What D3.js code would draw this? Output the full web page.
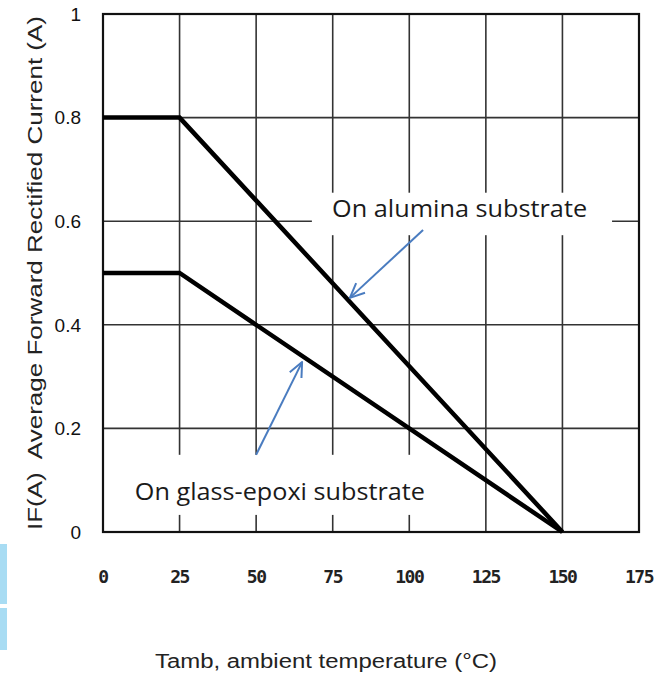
<!DOCTYPE html>
<html>
<head>
<meta charset="utf-8">
<script src="https://cdn.jsdelivr.net/npm/d3@7"></script>
<style>
  body { margin: 0; background: #fff; }
  svg { display: block; }
</style>
</head>
<body>
<div id="vis"></div>
<script>
// derating curves, temperature (°C) vs current (A)
const TEMPS = [0, 25, 150];
const ALUMINA = [0.8, 0.8, 0];
const GLASS_EPOXI = [0.5, 0.5, 0];

const X_TICKS = [0, 25, 50, 75, 100, 125, 150, 175];
const Y_TICKS = [0, 0.2, 0.4, 0.6, 0.8, 1];
const Y_TICK_LABELS = ["0", "0.2", "0.4", "0.6", "0.8", "1"];

const LABEL_ALUMINA = "On alumina substrate";
const LABEL_GLASS = "On glass-epoxi substrate";
const X_TITLE = "Tamb, ambient temperature (°C)";
const Y_TITLE = "IF(A)\u00a0 Average Forward Rectified Current (A)";

// frame
const FRAME_HEIGHT = 679;
const FRAME_WIDTH = 672;
const MARGINS = {left: 103, right: 33, top: 14, bottom: 147};

const VIS_HEIGHT = FRAME_HEIGHT - MARGINS.top - MARGINS.bottom;
const VIS_WIDTH = FRAME_WIDTH - MARGINS.left - MARGINS.right;

const FRAME = d3.select("#vis")
                  .append("svg")
                    .attr("height", FRAME_HEIGHT)
                    .attr("width", FRAME_WIDTH);

const X_SCALE = d3.scaleLinear()
                    .domain([0, 175])
                    .range([MARGINS.left, MARGINS.left + VIS_WIDTH]);

const Y_SCALE = d3.scaleLinear()
                    .domain([0, 1])
                    .range([MARGINS.top + VIS_HEIGHT, MARGINS.top]);

// little blue scan artifact at left edge
FRAME.append("rect").attr("x", 0).attr("y", 544).attr("width", 7).attr("height", 60)
     .attr("fill", "#a8dcf3");
FRAME.append("rect").attr("x", 0).attr("y", 608).attr("width", 7).attr("height", 42)
     .attr("fill", "#a8dcf3");

// grid
FRAME.append("g")
     .selectAll("line")
     .data(X_TICKS.slice(1, -1))
     .enter()
     .append("line")
       .attr("x1", (d) => X_SCALE(d))
       .attr("x2", (d) => X_SCALE(d))
       .attr("y1", Y_SCALE(0))
       .attr("y2", Y_SCALE(1))
       .attr("stroke", "#333")
       .attr("stroke-width", 1.6);

FRAME.append("g")
     .selectAll("line")
     .data(Y_TICKS.slice(1, -1))
     .enter()
     .append("line")
       .attr("x1", X_SCALE(0))
       .attr("x2", X_SCALE(175))
       .attr("y1", (d) => Y_SCALE(d))
       .attr("y2", (d) => Y_SCALE(d))
       .attr("stroke", "#333")
       .attr("stroke-width", 1.6);

// white boxes behind labels (they hide the grid)
FRAME.append("rect")
     .attr("x", X_SCALE(68.2))
     .attr("y", Y_SCALE(0.655))
     .attr("width", X_SCALE(166.2) - X_SCALE(68.2))
     .attr("height", Y_SCALE(0.573) - Y_SCALE(0.655))
     .attr("fill", "#fff");

FRAME.append("rect")
     .attr("x", X_SCALE(2.5))
     .attr("y", Y_SCALE(0.149))
     .attr("width", X_SCALE(113) - X_SCALE(2.5))
     .attr("height", Y_SCALE(0.033) - Y_SCALE(0.149))
     .attr("fill", "#fff");

// frame border
FRAME.append("rect")
     .attr("x", X_SCALE(0))
     .attr("y", Y_SCALE(1))
     .attr("width", VIS_WIDTH)
     .attr("height", VIS_HEIGHT)
     .attr("fill", "none")
     .attr("stroke", "#111")
     .attr("stroke-width", 2.2);

// curves
const line = d3.line()
               .x((d) => X_SCALE(d[0]))
               .y((d) => Y_SCALE(d[1]));

[ALUMINA, GLASS_EPOXI].forEach((series) => {
    FRAME.append("path")
         .datum(TEMPS.map((t, i) => [t, series[i]]))
         .attr("d", line)
         .attr("fill", "none")
         .attr("stroke", "#000")
         .attr("stroke-width", 4.5)
         .attr("stroke-linejoin", "miter");
});

// tick labels
FRAME.append("g")
     .selectAll("text")
     .data(Y_TICKS)
     .enter()
     .append("text")
       .attr("x", 81)
       .attr("y", (d) => Y_SCALE(d))
       .attr("dy", "0.36em")
       .attr("text-anchor", "end")
       .attr("font-family", "Liberation Sans, Arial, sans-serif")
       .attr("font-size", "19px")
       .attr("fill", "#111")
       .text((d, i) => Y_TICK_LABELS[i]);

FRAME.append("g")
     .selectAll("text")
     .data(X_TICKS)
     .enter()
     .append("text")
       .attr("x", (d) => X_SCALE(d))
       .attr("y", 583)
       .attr("text-anchor", "middle")
       .attr("font-family", "DejaVu Sans Mono, monospace")
       .attr("font-weight", "bold")
       .attr("font-size", "18px")
       .attr("letter-spacing", "-1.5px")
       .attr("fill", "#222")
       .text((d) => d);

// axis titles
FRAME.append("text")
     .attr("x", 326)
     .attr("y", 668)
     .attr("text-anchor", "middle")
     .attr("font-family", "Liberation Sans, Arial, sans-serif")
     .attr("font-size", "20px")
     .attr("textLength", 342)
     .attr("lengthAdjust", "spacingAndGlyphs")
     .attr("fill", "#222")
     .text(X_TITLE);

FRAME.append("text")
     .attr("transform", "translate(42," + 273 + ") rotate(-90)")
     .attr("text-anchor", "middle")
     .attr("font-family", "Liberation Sans, Arial, sans-serif")
     .attr("font-size", "21px")
     .attr("textLength", 514)
     .attr("lengthAdjust", "spacingAndGlyphs")
     .attr("fill", "#222")
     .text(Y_TITLE);

// annotations
FRAME.append("text")
     .attr("x", X_SCALE(74.8))
     .attr("y", Y_SCALE(0.608))
     .attr("font-family", "Open Sans, Noto Sans, sans-serif")
     .attr("font-size", "23px")
     .attr("textLength", 255)
     .attr("lengthAdjust", "spacingAndGlyphs")
     .attr("fill", "#1a1a1a")
     .text(LABEL_ALUMINA);

FRAME.append("text")
     .attr("x", X_SCALE(10.4))
     .attr("y", Y_SCALE(0.062))
     .attr("font-family", "Open Sans, Noto Sans, sans-serif")
     .attr("font-size", "23px")
     .attr("textLength", 290)
     .attr("lengthAdjust", "spacingAndGlyphs")
     .attr("fill", "#1a1a1a")
     .text(LABEL_GLASS);

// blue arrows: [from, to] in data units
const ARROWS = [
    [[104.5, 0.583], [80.6, 0.452]],
    [[50, 0.149], [65, 0.328]]
];

const ARROW_COLOR = "#4a7cc0";

ARROWS.forEach((a) => {
    const x1 = X_SCALE(a[0][0]), y1 = Y_SCALE(a[0][1]);
    const x2 = X_SCALE(a[1][0]), y2 = Y_SCALE(a[1][1]);
    FRAME.append("line")
         .attr("x1", x1).attr("y1", y1)
         .attr("x2", x2).attr("y2", y2)
         .attr("stroke", ARROW_COLOR)
         .attr("stroke-width", 2);

    // open arrow head
    const ang = Math.atan2(y2 - y1, x2 - x1);
    const len = 16, spread = 0.42;
    const head = [
        [x2 - len * Math.cos(ang - spread), y2 - len * Math.sin(ang - spread)],
        [x2, y2],
        [x2 - len * Math.cos(ang + spread), y2 - len * Math.sin(ang + spread)]
    ];
    FRAME.append("path")
         .attr("d", d3.line()(head))
         .attr("fill", "none")
         .attr("stroke", ARROW_COLOR)
         .attr("stroke-width", 2)
         .attr("stroke-linejoin", "round");
});
</script>
</body>
</html>
